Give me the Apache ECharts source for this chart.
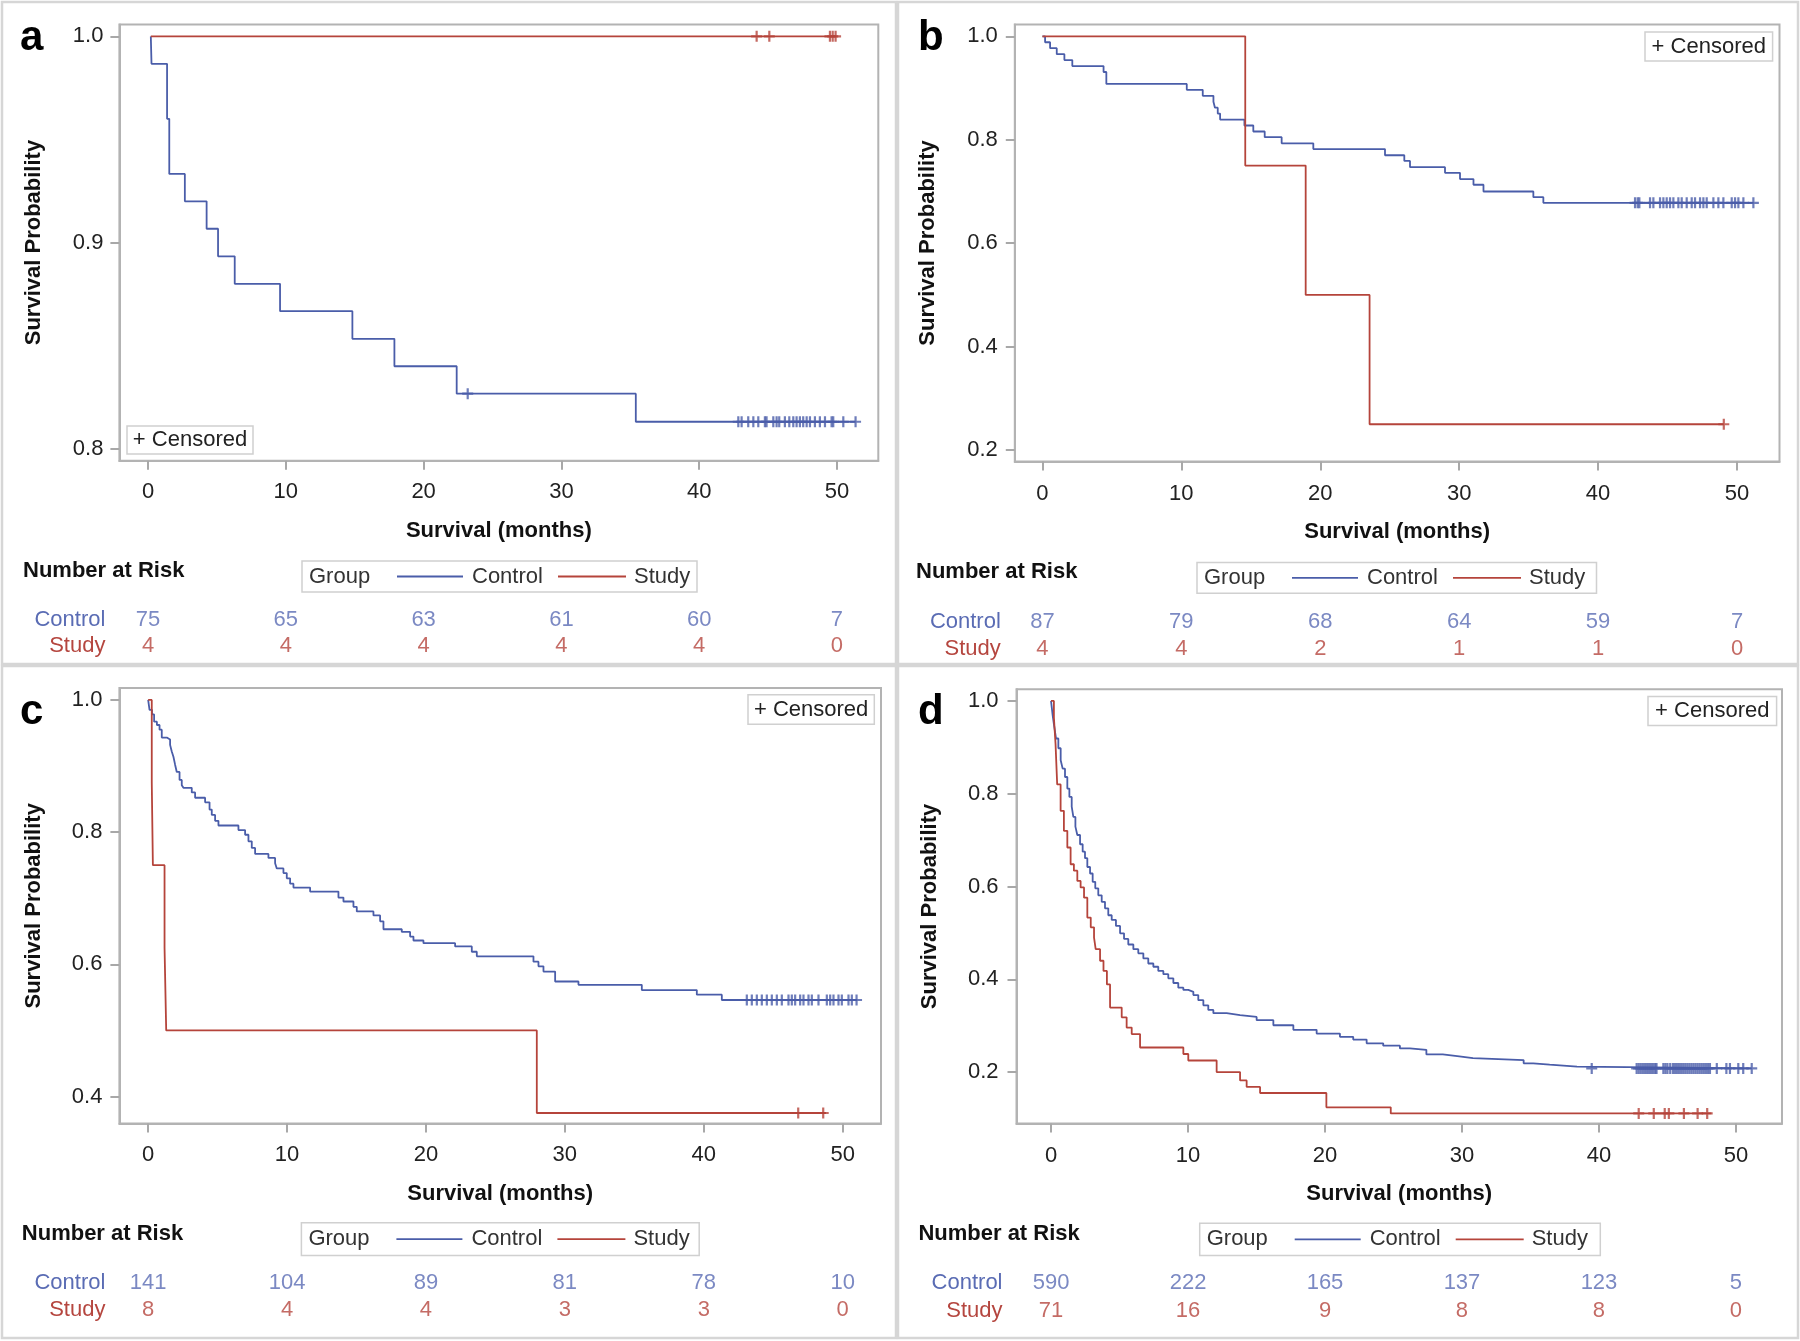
<!DOCTYPE html>
<html><head><meta charset="utf-8">
<script src="https://cdn.jsdelivr.net/npm/echarts@6/dist/echarts.min.js"></script>
<style>html,body{margin:0;padding:0;background:#fff}#c{width:1800px;height:1341px}</style>
</head><body><div id="c"></div>
<script>
// ---------- DATA ----------
const xTicks = [0, 10, 20, 30, 40, 50];
const riskTimes = [0, 10, 20, 30, 40, 50];
const riskRows = ['Study', 'Control'];
const groupNames = ['Control', 'Study'];

// Panel a
const yTicksA = [0.8, 0.9, 1.0];
const controlA = [[0.2,1],[0.25,0.9867],[1.38,0.96],[1.54,0.9333],[2.67,0.92],[4.25,0.9067],[5.08,0.8933],[6.29,0.88],[9.58,0.8667],[14.83,0.8533],[17.88,0.84],[22.4,0.8267],[35.4,0.8131],[51.35,0.8131]];
const studyA = [[0.2,1],[49.95,1]];
const controlCensorA = [23.2,42.84,43.08,43.56,43.93,44.29,44.77,44.89,45.38,45.62,45.81,46.22,46.54,46.83,47.07,47.31,47.55,47.8,48.04,48.4,48.76,49.13,49.61,49.73,50.46,51.35];
const studyCensorA = [44.17,45.09,49.49,49.69,49.9];
const riskControlA = [75,65,63,61,60,7];
const riskStudyA = [4,4,4,4,4,0];

// Panel b
const yTicksB = [0.2, 0.4, 0.6, 0.8, 1.0];
const controlB = [[0,1],[0.19,0.9885],[0.55,0.977],[1.03,0.9655],[1.58,0.954],[2.15,0.9425],[4.4,0.931],[4.6,0.908],[10.39,0.8966],[11.54,0.885],[12.31,0.8736],[12.42,0.862],[12.62,0.8506],[12.79,0.839],[14.54,0.8276],[15.18,0.816],[16.0,0.805],[17.22,0.793],[19.5,0.782],[24.66,0.770],[26.05,0.759],[26.46,0.747],[28.98,0.736],[30.06,0.724],[31.03,0.713],[31.75,0.70],[35.34,0.689],[36.06,0.678],[51.2,0.678]];
const studyB = [[0,1],[14.6,0.75],[18.95,0.5],[23.55,0.25],[49.05,0.25]];
const controlCensorB = [42.66,42.85,42.97,43.74,43.98,44.46,44.70,44.94,45.18,45.42,45.78,46.02,46.38,46.74,46.98,47.34,47.58,47.82,48.30,48.66,49.02,49.62,49.86,50.10,50.46,51.18];
const studyCensorB = [49.05];
const riskControlB = [87,79,68,64,59,7];
const riskStudyB = [4,4,2,1,1,0];

// Panel c
const yTicksC = [0.4, 0.6, 0.8, 1.0];
const controlC = [[0,1],[0.1,0.985],[0.28,0.978],[0.43,0.967],[0.63,0.962],[0.82,0.955],[0.98,0.943],[1.34,0.94],[1.58,0.932],[1.70,0.922],[1.82,0.914],[1.94,0.902],[2.06,0.891],[2.26,0.879],[2.42,0.871],[2.54,0.867],[3.14,0.86],[3.38,0.852],[4.10,0.845],[4.42,0.834],[4.58,0.826],[4.82,0.817],[5.06,0.81],[6.50,0.803],[6.98,0.796],[7.22,0.786],[7.46,0.776],[7.70,0.767],[8.66,0.761],[9.14,0.753],[9.26,0.745],[9.74,0.738],[9.98,0.73],[10.22,0.722],[10.46,0.716],[11.66,0.71],[13.70,0.701],[14.06,0.695],[14.78,0.687],[15.02,0.68],[16.22,0.674],[16.70,0.665],[16.94,0.653],[18.26,0.649],[18.86,0.642],[19.10,0.636],[19.82,0.632],[22.10,0.627],[23.30,0.619],[23.66,0.612],[27.74,0.604],[28.10,0.597],[28.46,0.589],[29.3,0.574],[30.98,0.569],[35.54,0.561],[39.50,0.554],[41.30,0.546],[51.0,0.546]];
const studyC = [[0,1],[0.26,0.875],[0.34,0.75],[1.18,0.625],[1.3,0.5],[27.98,0.375],[48.8,0.375]];
const controlCensorC = [43.10,43.46,43.82,44.18,44.54,44.90,45.26,45.62,46.10,46.34,46.58,46.94,47.18,47.54,47.78,48.26,48.86,49.10,49.34,49.70,49.94,50.42,50.66,51.0];
const studyCensorC = [46.8,48.6];
const riskControlC = [141,104,89,81,78,10];
const riskStudyC = [8,4,4,3,3,0];

// Panel d
const yTicksD = [0.2, 0.4, 0.6, 0.8, 1.0];
const controlD = [[0,1],[0.05,0.998],[0.12,0.969],[0.22,0.948],[0.365,0.919],[0.535,0.898],[0.705,0.872],[0.85,0.854],[1.02,0.836],[1.19,0.811],[1.34,0.793],[1.51,0.772],[1.63,0.750],[1.78,0.729],[1.92,0.711],[2.12,0.691],[2.31,0.675],[2.48,0.661],[2.65,0.642],[2.85,0.628],[3.04,0.610],[3.23,0.596],[3.45,0.581],[3.70,0.567],[3.94,0.553],[4.18,0.538],[4.43,0.528],[4.74,0.515],[5.04,0.499],[5.33,0.487],[5.64,0.475],[6.01,0.465],[6.37,0.456],[6.74,0.445],[7.10,0.434],[7.47,0.427],[7.83,0.418],[8.20,0.411],[8.56,0.402],[8.93,0.392],[9.29,0.382],[9.66,0.377],[10.02,0.373],[10.39,0.366],[10.75,0.355],[11.12,0.344],[11.48,0.334],[11.85,0.327],[12.82,0.323],[13.80,0.319],[15.01,0.312],[16.23,0.301],[17.69,0.291],[19.39,0.283],[21.09,0.276],[22.06,0.27],[23.04,0.262],[24.25,0.257],[25.47,0.251],[26.2,0.248],[27.4,0.238],[28.6,0.234],[29.8,0.230],[30.8,0.226],[34.5,0.219],[35.2,0.216],[36.4,0.212],[38.4,0.208],[51.15,0.208]];
const studyD = [[0,1],[0.21,0.964],[0.33,0.907],[0.45,0.82],[0.70,0.763],[0.94,0.72],[1.19,0.684],[1.43,0.648],[1.67,0.634],[1.92,0.612],[2.16,0.598],[2.41,0.576],[2.65,0.533],[2.90,0.512],[3.14,0.49],[3.26,0.465],[3.58,0.44],[3.83,0.418],[4.08,0.389],[4.31,0.339],[5.16,0.318],[5.52,0.296],[5.89,0.282],[6.50,0.253],[9.66,0.239],[10.02,0.225],[12.09,0.2],[13.80,0.182],[14.28,0.168],[15.26,0.155],[20.1,0.124],[24.8,0.111],[48.2,0.111]];
const controlCensorD = [39.47,42.75,42.9,43.05,43.2,43.35,43.5,43.65,43.8,43.95,44.1,44.2,44.7,44.85,45.0,45.2,45.4,45.55,45.7,45.85,46.0,46.15,46.3,46.45,46.6,46.75,46.9,47.05,47.2,47.35,47.5,47.65,47.8,47.95,48.1,48.6,49.3,49.56,50.17,50.53,51.15];
const studyCensorD = [42.9,44.0,44.8,45.1,46.2,47.2,47.9];
const riskControlD = [590,222,165,137,123,5];
const riskStudyD = [71,16,9,8,8,0];

// ---------- STYLE / LAYOUT ----------
const BLUE = '#4a5da9', RED = '#b5443b';
const BLUE_T = '#5a6cb4', RED_T = '#b5463f';
const FONT = '"Liberation Sans", Arial, sans-serif';
const FRAME = '#b3b3b3';
const TICK = '#a8a8a8';

const panels = [
  {letter:'a', ctrl:controlA, study:studyA, cc:controlCensorA, sc:studyCensorA, rc:riskControlA, rs:riskStudyA, yt:yTicksA,
   grid:{left:119.4, top:24.4, width:758.9, height:436.3}, xr:[-2.08,53.0], yr:[0.7942,1.0058],
   risk:{top:606.5, height:53}, yGap:74, yLblMargin:16, xLblMargin:20, xGap:59,
   box:{panel:[2,2,894,662], letterPos:[20,38], nar:[23,570.5], leg:[302,561,395,31], cens:[127,426,126,28]}},
  {letter:'b', ctrl:controlB, study:studyB, cc:controlCensorB, sc:studyCensorB, rc:riskControlB, rs:riskStudyB, yt:yTicksB,
   grid:{left:1014.8, top:24.4, width:764.7, height:437.1}, xr:[-1.99,53.06], yr:[0.178,1.023],
   risk:{top:608.4, height:53.8}, yGap:76, yLblMargin:17, xLblMargin:21, xGap:59.5,
   box:{panel:[898,2,900,662], letterPos:[918,38], nar:[916,571.8], leg:[1197,562.4,399.5,30.8], cens:[1645,32,127.6,29]}},
  {letter:'c', ctrl:controlC, study:studyC, cc:controlCensorC, sc:studyCensorC, rc:riskControlC, rs:riskStudyC, yt:yTicksC,
   grid:{left:119.4, top:688, width:761.6, height:435.6}, xr:[-2.07,52.76], yr:[0.359,1.018],
   risk:{top:1269.2, height:54}, yGap:74.5, yLblMargin:17, xLblMargin:20, xGap:59.6,
   box:{panel:[2,666,894,672], letterPos:[20,712], nar:[21.8,1234], leg:[301.4,1222.8,397.8,32.6], cens:[748,694.8,126.3,29.5]}},
  {letter:'d', ctrl:controlD, study:studyD, cc:controlCensorD, sc:studyCensorD, rc:riskControlD, rs:riskStudyD, yt:yTicksD,
   grid:{left:1016.5, top:689.3, width:765.5, height:434.3}, xr:[-2.52,53.36], yr:[0.089,1.025],
   risk:{top:1268.8, height:55.8}, yGap:75.5, yLblMargin:18, xLblMargin:21, xGap:59.6,
   box:{panel:[898,666,900,672], letterPos:[918,712], nar:[918.4,1234], leg:[1199.7,1223.3,400.6,32.1], cens:[1648,696.5,128.6,29.1]}}
];

function survAt(curve, t) {
  let v = curve[0][1];
  for (const p of curve) { if (p[0] <= t) v = p[1]; else break; }
  return v;
}

const PLUS = 'path://M4,0L6,0L6,4L10,4L10,6L6,6L6,10L4,10L4,6L0,6L0,4L4,4Z';
const grids = [], xAxes = [], yAxes = [], series = [], graphics = [];

panels.forEach((P, i) => {
  const gi = grids.length;
  grids.push({left:P.grid.left, top:P.grid.top, width:P.grid.width, height:P.grid.height,
    show:true, borderColor:FRAME, borderWidth:2, backgroundColor:'#fff', containLabel:false});
  grids.push({left:P.grid.left, top:P.risk.top, width:P.grid.width, height:P.risk.height, containLabel:false});

  xAxes.push({type:'value', gridIndex:gi, min:P.xr[0], max:P.xr[1], position:'bottom',
    name:'Survival (months)', nameLocation:'middle', nameGap:P.xGap,
    nameTextStyle:{fontFamily:FONT, fontSize:22, fontWeight:'bold', color:'#111'},
    axisLine:{show:true, onZero:false, lineStyle:{color:FRAME, width:2}}, splitLine:{show:false},
    axisTick:{show:true, length:9, customValues:xTicks, lineStyle:{color:TICK, width:2}},
    axisLabel:{customValues:xTicks, margin:P.xLblMargin, fontFamily:FONT, fontSize:22, color:'#222'}});
  xAxes.push({type:'value', gridIndex:gi+1, min:P.xr[0], max:P.xr[1], show:false});

  yAxes.push({type:'value', gridIndex:gi, min:P.yr[0], max:P.yr[1], position:'left',
    name:'Survival Probability', nameLocation:'middle', nameGap:P.yGap,
    nameTextStyle:{fontFamily:FONT, fontSize:22, fontWeight:'bold', color:'#111'},
    axisLine:{show:true, onZero:false, lineStyle:{color:FRAME, width:2}}, splitLine:{show:false},
    axisTick:{show:true, length:9, customValues:P.yt, lineStyle:{color:TICK, width:2}},
    axisLabel:{customValues:P.yt, margin:P.yLblMargin, fontFamily:FONT, fontSize:22, color:'#222',
      formatter: v => Number(v).toFixed(1)}});
  yAxes.push({type:'category', gridIndex:gi+1, data:riskRows,
    axisLine:{show:false, onZero:false}, axisTick:{show:false}, splitLine:{show:false},
    axisLabel:{interval:0, margin:14, fontFamily:FONT, fontSize:22, color: v => v === 'Control' ? BLUE_T : RED_T}});

  const xi = gi, yi = gi;
  series.push({type:'line', xAxisIndex:xi, yAxisIndex:yi, step:'end', showSymbol:false, symbol:'none',
    data:P.ctrl, lineStyle:{color:BLUE, width:1.8}, itemStyle:{color:BLUE}, z:3, animation:false});
  series.push({type:'line', xAxisIndex:xi, yAxisIndex:yi, step:'end', showSymbol:false, symbol:'none',
    data:P.study, lineStyle:{color:RED, width:1.8}, itemStyle:{color:RED}, z:3, animation:false});
  series.push({type:'scatter', xAxisIndex:xi, yAxisIndex:yi, symbol:PLUS, symbolSize:11,
    data:P.cc.map(t => [t, survAt(P.ctrl, t)]), itemStyle:{color:BLUE}, z:4, animation:false});
  series.push({type:'scatter', xAxisIndex:xi, yAxisIndex:yi, symbol:PLUS, symbolSize:11,
    data:P.sc.map(t => [t, survAt(P.study, t)]), itemStyle:{color:RED}, z:4, animation:false});

  // Number at risk table (placed on the shared time scale)
  [['Control', P.rc, BLUE_T], ['Study', P.rs, RED_T]].forEach(([row, counts, col]) => {
    series.push({type:'scatter', xAxisIndex:gi+1, yAxisIndex:gi+1, symbolSize:2,
      itemStyle:{color:'rgba(0,0,0,0)'}, animation:false,
      data:riskTimes.map((t, k) => [t, riskRows.indexOf(row), counts[k]]),
      label:{show:true, position:'inside', formatter:p => String(p.data[2]),
        fontFamily:FONT, fontSize:22, color:col}});
  });

  // Decorations
  const b = P.box;
  graphics.push({type:'rect', shape:{x:b.panel[0], y:b.panel[1], width:b.panel[2], height:b.panel[3]},
    style:{fill:null, stroke:'#d6d6d6', lineWidth:2.5}, z:-1, silent:true});
  graphics.push({type:'text', x:b.letterPos[0], y:b.letterPos[1],
    style:{text:P.letter, font:'bold 42px ' + FONT, fill:'#000', verticalAlign:'middle', textVerticalAlign:'middle'}});
  graphics.push({type:'text', x:b.nar[0], y:b.nar[1],
    style:{text:'Number at Risk', font:'bold 22px ' + FONT, fill:'#111', verticalAlign:'middle', textVerticalAlign:'middle'}});
  const L = b.leg, cy = L[1] + L[3] / 2;
  graphics.push({type:'rect', shape:{x:L[0], y:L[1], width:L[2], height:L[3]},
    style:{fill:'#fff', stroke:'#d0d0d0', lineWidth:1.5}});
  graphics.push({type:'text', x:L[0] + 7, y:cy, style:{text:'Group', font:'22px ' + FONT, fill:'#333', verticalAlign:'middle', textVerticalAlign:'middle'}});
  graphics.push({type:'line', shape:{x1:L[0] + 95, y1:cy, x2:L[0] + 161, y2:cy}, style:{stroke:BLUE, lineWidth:1.8}});
  graphics.push({type:'text', x:L[0] + 170, y:cy, style:{text:groupNames[0], font:'22px ' + FONT, fill:'#333', verticalAlign:'middle', textVerticalAlign:'middle'}});
  graphics.push({type:'line', shape:{x1:L[0] + 256, y1:cy, x2:L[0] + 324, y2:cy}, style:{stroke:RED, lineWidth:1.8}});
  graphics.push({type:'text', x:L[0] + 332, y:cy, style:{text:groupNames[1], font:'22px ' + FONT, fill:'#333', verticalAlign:'middle', textVerticalAlign:'middle'}});
  const C = b.cens;
  graphics.push({type:'rect', shape:{x:C[0], y:C[1], width:C[2], height:C[3]},
    style:{fill:'#fff', stroke:'#d0d0d0', lineWidth:1.5}, z:10});
  graphics.push({type:'text', x:C[0] + C[2] / 2, y:C[1] + C[3] / 2, z:11,
    style:{text:'+ Censored', font:'22px ' + FONT, fill:'#222', align:'center', textAlign:'center', verticalAlign:'middle', textVerticalAlign:'middle'}});
});

const chart = echarts.init(document.getElementById('c'), null, {renderer:'canvas'});
chart.setOption({
  backgroundColor:'#fff',
  animation:false,
  textStyle:{fontFamily:FONT},
  grid:grids, xAxis:xAxes, yAxis:yAxes, series:series, graphic:graphics
});
</script>
</body></html>
